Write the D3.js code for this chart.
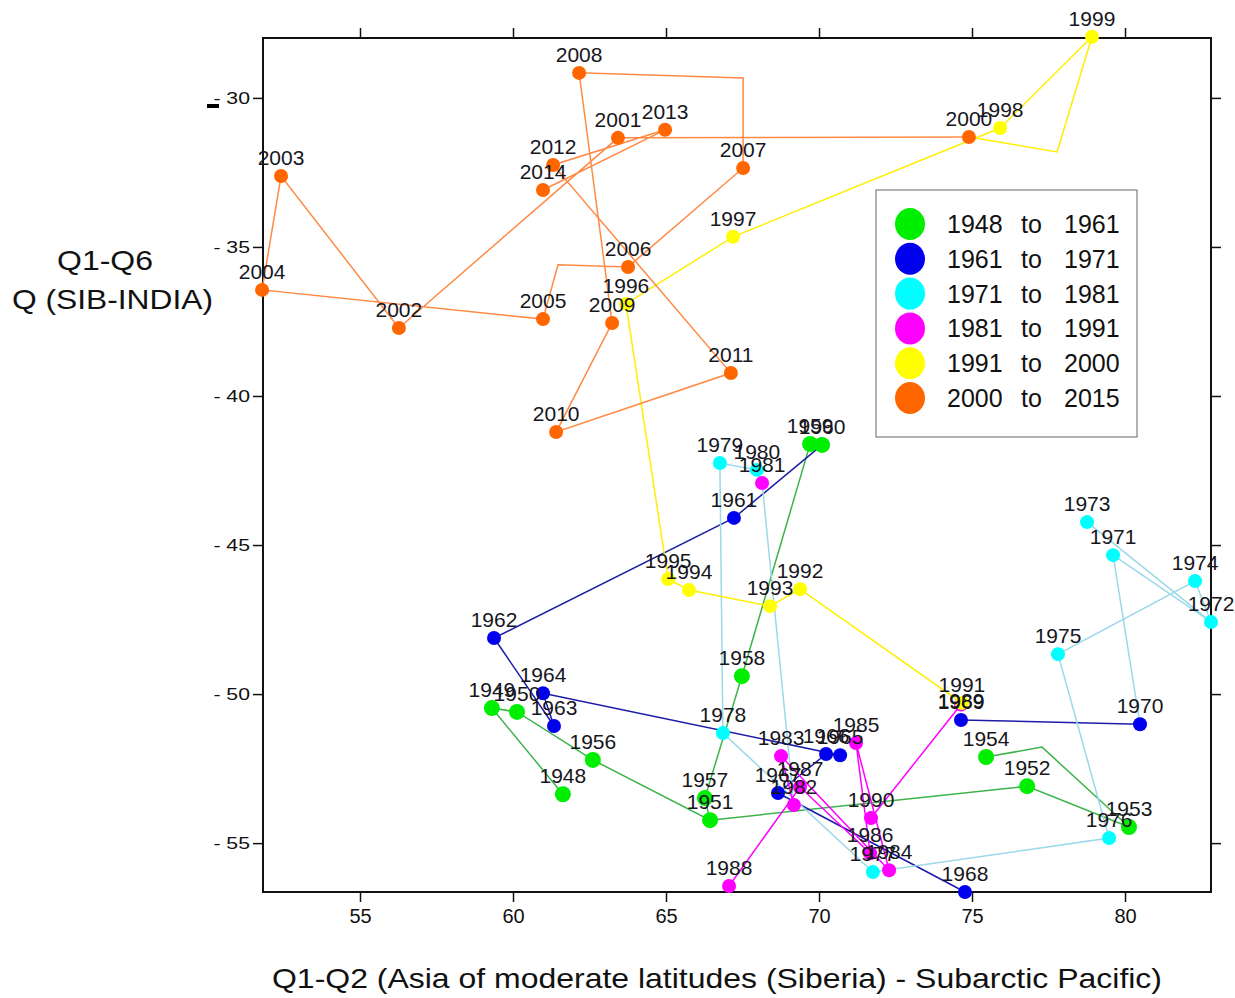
<!DOCTYPE html>
<meta charset="utf-8"/>
<style>
  body { margin: 0; background: #fff; }
  text { font-family: "Liberation Sans", Arial, sans-serif; }
</style>
<svg width="1235" height="998"></svg>
<script src="https://d3js.org/d3.v7.min.js"></script>
<script>

// ---- data ----
var years = [1948,1949,1950,1951,1952,1953,1954,1956,1957,1958,1959,1960,
             1961,1962,1963,1964,1965,1966,1967,1968,1969,1970,
             1971,1972,1973,1974,1975,1976,1977,1978,1979,1980,
             1981,1982,1983,1984,1985,1986,1987,1988,1989,1990,
             1991,1992,1993,1994,1995,1996,1997,1998,1999,
             2000,2001,2002,2003,2004,2005,2006,2007,2008,2009,2010,2011,2012,2013,2014]
var qx = [61.63,59.31,60.13,66.44,76.80,80.13,75.46,62.61,66.27,67.48,69.71,70.10,
          67.22,59.38,61.34,60.98,70.69,70.23,68.66,74.77,74.64,80.49,
          79.61,82.81,78.76,82.29,77.81,79.48,71.76,66.86,66.76,67.97,
          68.14,69.18,68.76,72.29,71.21,71.67,69.38,67.06,74.64,71.70,
          74.67,69.38,68.40,65.75,65.07,63.69,67.19,75.92,78.92,
          74.90,63.43,56.27,52.42,51.80,60.98,63.76,67.52,62.16,63.24,61.41,67.12,61.31,64.97,60.98]
var qy = [-53.36,-50.47,-50.60,-54.23,-53.09,-54.46,-52.11,-52.21,-53.49,-49.40,-41.61,-41.64,
          -44.09,-48.12,-51.07,-49.97,-52.05,-52.01,-53.32,-56.64,-50.87,-51.01,
          -45.34,-47.58,-44.23,-46.21,-48.66,-54.83,-55.97,-51.31,-42.25,-42.48,
          -42.92,-53.72,-52.08,-55.91,-51.64,-55.34,-53.12,-56.44,-50.35,-54.16,
          -50.30,-46.48,-47.05,-46.51,-46.14,-36.91,-34.66,-31.01,-27.95,
          -31.31,-31.34,-37.72,-32.62,-36.44,-37.42,-35.67,-32.35,-29.16,-37.55,-41.21,-39.23,-32.25,-31.07,-33.09]

// bends in the connecting lines that carry no marker
var bendNames = ["g", "y", "o1", "o2"]
var bendX = [77.29, 77.78, 61.47, 67.52]
var bendY = [-51.78, -31.81, -35.60, -29.33]

// legend periods
var periodStart = [1948, 1961, 1971, 1981, 1991, 2000]
var periodEnd   = [1961, 1971, 1981, 1991, 2000, 2015]
var pointColors = ["#00ee00", "#0000ee", "#00ffff", "#ff00ff", "#ffff00", "#ff6600"]
var lineColors  = ["#3cb44b", "#1c1ca8", "#9ad8ea", "#ff00ff", "#ffee00", "#ff8a45"]

// order in which the points are joined, one list per period
var paths = [
  [[1948,1949,1950,1956,1951,1952,1953,"g",1954], [1951,1957,1958,1959,1960]],
  [[1960,1961,1962,1963,1964,1965,1966,1967,1968], [1969,1970]],
  [[1970,1971,1972,1973], [1972,1974,1975,1976,1977,1978,1979,1980,1981,1982]],
  [[1982,1983,1984,1985,1986,1987,1988], [1990,1989]],
  [[1989,1991,1992,1993,1994,1995,1996,1997,1998,1999,"y",2000]],
  [[2000,2001,2002,2003,2004,2005,"o1",2006,2007,"o2",2008,2009,2010,2011,2012,2013,2014]]
]

var xTicks = [55, 60, 65, 70, 75, 80]
var yTicks = [-30, -35, -40, -45, -50, -55]

// label nudges (px) where the original label sits away from its dot
var labelShift = {1989: 14}

// ---- layout ----
var svg = d3.select("svg")
var L = 263, R = 1211, T = 38, B = 892

var x = d3.scaleLinear().domain([51.83, 82.81]).range([L, R])
var y = d3.scaleLinear().domain([-56.64, -27.99]).range([B, T])

var pos = {}
years.forEach(function(yr, i) { pos[yr] = [qx[i], qy[i]] })
bendNames.forEach(function(n, i) { pos[n] = [bendX[i], bendY[i]] })

function periodOf(yr) {
  var k = 0
  for (var i = 0; i < periodStart.length; i++) if (yr >= periodStart[i]) k = i
  return k
}

// axes
svg.append("g").attr("transform", "translate(0," + B + ")")
  .call(d3.axisBottom(x).tickValues(xTicks).tickSize(10).tickSizeOuter(0).tickPadding(7))
  .call(function(g) { g.select(".domain").remove() })
  .selectAll("text").style("font-size", "20px").attr("fill", "#111")
svg.append("g").attr("transform", "translate(0," + T + ")")
  .call(d3.axisTop(x).tickValues(xTicks).tickSize(10).tickSizeOuter(0).tickFormat(""))
  .call(function(g) { g.select(".domain").remove() })
var yl = svg.append("g").attr("transform", "translate(" + L + ",0)")
  .call(d3.axisLeft(y).tickValues(yTicks).tickSize(10).tickSizeOuter(0).tickPadding(3)
        .tickFormat(function(d) { return "- " + Math.abs(d) }))
  .call(function(g) { g.select(".domain").remove() })
yl.selectAll("text").style("font-size", "17px").attr("fill", "#111")
  .attr("x", -13 / 1.25).attr("transform", "scale(1.25,1)")
svg.append("g").attr("transform", "translate(" + R + ",0)")
  .call(d3.axisRight(y).tickValues(yTicks).tickSize(10).tickSizeOuter(0).tickFormat(""))
  .call(function(g) { g.select(".domain").remove() })
svg.selectAll(".tick line").attr("stroke", "#111").attr("stroke-width", 1.5)

svg.append("rect")
  .attr("x", L).attr("y", T).attr("width", R - L).attr("height", B - T)
  .attr("fill", "none").attr("stroke", "#111").attr("stroke-width", 2)

// small stray dash by the -30 label
svg.append("rect").attr("x", 207).attr("y", 104).attr("width", 12).attr("height", 4).attr("fill", "#000")

// connecting lines
var line = d3.line().x(function(k) { return x(pos[k][0]) }).y(function(k) { return y(pos[k][1]) })
paths.forEach(function(list, p) {
  list.forEach(function(seq) {
    svg.append("path").attr("d", line(seq))
      .attr("fill", "none").attr("stroke", lineColors[p]).attr("stroke-width", 1.5)
  })
})

// points
svg.selectAll("circle.pt").data(years).enter().append("circle")
  .attr("class", "pt")
  .attr("cx", function(d) { return x(pos[d][0]) })
  .attr("cy", function(d) { return y(pos[d][1]) })
  .attr("r", function(d) { return periodOf(d) == 0 ? 8 : 7 })
  .attr("fill", function(d) { return pointColors[periodOf(d)] })

// year labels
svg.selectAll("text.yr").data(years).enter().append("text")
  .attr("class", "yr")
  .attr("x", function(d) { return x(pos[d][0]) })
  .attr("y", function(d) { return y(pos[d][1]) - 11 + (labelShift[d] || 0) })
  .attr("text-anchor", "middle")
  .style("font-size", "21px")
  .attr("fill", "#161620")
  .text(function(d) { return d })

// legend
var lg = svg.append("g")
lg.append("rect").attr("x", 876).attr("y", 190).attr("width", 261).attr("height", 247)
  .attr("fill", "#fff").attr("stroke", "#666").attr("stroke-width", 1)
periodStart.forEach(function(s, i) {
  var cy = 224 + i * 34.8
  lg.append("ellipse").attr("cx", 910).attr("cy", cy).attr("rx", 15).attr("ry", 16)
    .attr("fill", pointColors[i])
  lg.append("text").attr("x", 947).attr("y", cy + 9).style("font-size", "25px").attr("fill", "#111").text(s)
  lg.append("text").attr("x", 1021).attr("y", cy + 9).style("font-size", "25px").attr("fill", "#111").text("to")
  lg.append("text").attr("x", 1064).attr("y", cy + 9).style("font-size", "25px").attr("fill", "#111").text(periodEnd[i])
})

// axis titles
svg.append("text").attr("x", 272).attr("y", 988)
  .attr("textLength", 890).attr("lengthAdjust", "spacingAndGlyphs")
  .style("font-size", "28px").attr("fill", "#111")
  .text("Q1-Q2 (Asia of moderate latitudes (Siberia) - Subarctic Pacific)")
svg.append("text").attr("x", 57).attr("y", 270)
  .attr("textLength", 96).attr("lengthAdjust", "spacingAndGlyphs")
  .style("font-size", "28px").attr("fill", "#111").text("Q1-Q6")
svg.append("text").attr("x", 12).attr("y", 309)
  .attr("textLength", 201).attr("lengthAdjust", "spacingAndGlyphs")
  .style("font-size", "28px").attr("fill", "#111").text("Q (SIB-INDIA)")

</script>
